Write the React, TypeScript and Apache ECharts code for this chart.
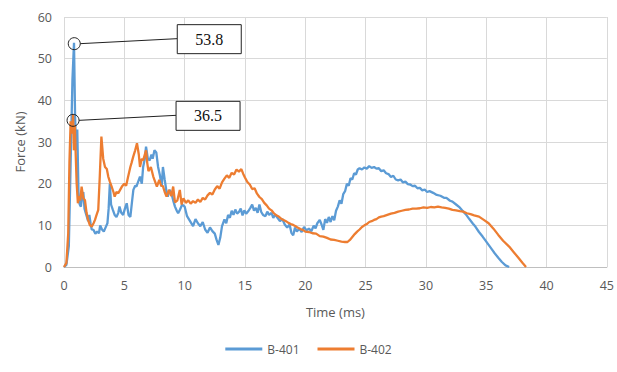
import React, { useEffect, useRef } from "react";
import * as echarts from "echarts";

// ---- Data ----
const xTicks = { min: 0, max: 45, interval: 5 };
const yTicks = { min: 0, max: 60, interval: 10 };

const seriesNames = ["B-401", "B-402"];

const t401 = [
  0, 0.2, 0.4, 0.55, 0.7, 0.83, 0.92, 1.0, 1.1, 1.2, 1.3, 1.4, 1.5, 1.6, 1.7, 1.8, 1.9, 2.0, 2.1, 2.2,
  2.3, 2.45, 2.6, 2.75, 2.9, 3.0, 3.15, 3.3, 3.45, 3.6, 3.7, 3.8, 3.9, 4.05, 4.2, 4.35, 4.5, 4.6, 4.75,
  4.9, 5.05, 5.2, 5.35, 5.5, 5.65, 5.75, 5.9, 6.0, 6.15, 6.3, 6.45, 6.56, 6.7, 6.8, 6.95, 7.1, 7.25,
  7.35, 7.5, 7.65, 7.8, 7.95, 8.1, 8.2, 8.35, 8.5, 8.6, 8.75, 8.9, 9.05, 9.2, 9.35, 9.46, 9.6, 9.8,
  10.0, 10.2, 10.45, 10.7, 10.9, 11.1, 11.3, 11.5, 11.7, 11.9, 12.1, 12.3, 12.5, 12.65, 12.8, 12.95,
  13.1, 13.3, 13.45, 13.6, 13.75, 13.9, 14.05, 14.2, 14.35, 14.5, 14.65, 14.8, 14.95, 15.1, 15.3,
  15.45, 15.6, 15.75, 15.9, 16.05, 16.2, 16.35, 16.5, 16.7, 16.85, 17.0, 17.2, 17.35, 17.5, 17.7,
  17.9, 18.1, 18.3, 18.5, 18.7, 18.85, 19.0, 19.15, 19.3, 19.5, 19.7, 19.9, 20.1, 20.3, 20.5, 20.7,
  20.85, 21.0, 21.2, 21.35, 21.5, 21.65, 21.8, 21.95, 22.1, 22.25, 22.4, 22.55, 22.7, 22.85, 23.0,
  23.15, 23.3, 23.45, 23.6, 23.75, 23.9, 24.05, 24.2, 24.35, 24.5, 24.7, 24.9, 25.1, 25.3, 25.5,
  25.7, 25.9, 26.1, 26.3, 26.5, 26.7, 26.9, 27.1, 27.3, 27.5, 27.7, 27.9, 28.1, 28.3, 28.5, 28.7,
  28.9, 29.1, 29.3, 29.5, 29.7, 29.9, 30.1, 30.3, 30.6, 30.9, 31.2, 31.5, 31.7, 32.0, 32.2, 32.5,
  32.8, 33.0, 33.3, 33.6, 33.9, 34.1, 34.4, 34.7, 34.9, 35.2, 35.5, 35.7, 36.0, 36.3, 36.6, 36.9,
];
const f401 = [
  0, 0.5, 5, 25, 45, 53.8, 36, 28, 33, 18, 15, 14.5, 17, 18, 14, 13, 12, 11, 12.5, 10.5,
  9, 8.9, 8, 8.5, 8.1, 10, 9, 8.5, 9.5, 10.5, 14, 20, 15, 13.7, 12.5, 12, 13, 14.5, 13,
  12.5, 14, 15.3, 12.5, 12, 16, 18.5, 19.5, 19.3, 20.5, 21.7, 20, 24, 26, 28.9, 26, 25.6, 27,
  26, 28, 27.5, 24, 22, 19.3, 24, 20.9, 18, 16.9, 18.5, 17.7, 16, 14.5, 13.5, 12.9, 13.7, 15,
  14.5, 12.2, 11, 9.8, 11.5, 10.5, 9.8, 10.8, 9, 8.2, 9.5, 8.6, 8, 6.5, 5.3, 7,
  9.8, 11.4, 10.5, 12.5, 11.8, 13.5, 12.5, 13.8, 12.8, 13.2, 14, 12.4, 13.6, 12.8, 13.5,
  14.2, 15, 13.5, 14.2, 13, 15, 13.2, 12.5, 12.2, 13.3, 12.5, 13, 11.8, 12.6, 11.8,
  11, 11.5, 10.2, 9.5, 10.2, 8.2, 7.6, 9.5, 8.5, 9.2, 8.4, 9.6, 8.8, 9.2, 8.6, 9.9,
  9.3, 10.5, 11.3, 10.2, 8.9, 11.5, 10.6, 12, 10.8, 12.2, 11.2, 13.5, 14.5, 16, 15.2,
  17.5, 18.2, 20, 19.5, 21.3, 21, 22.5, 22.2, 23.4, 23.7, 23.4, 23.9, 23.6, 24.2, 23.8,
  24, 23.6, 23.7, 23.0, 23.2, 22.5, 22.3, 21.6, 21.9, 21.0, 20.8, 21, 20.3, 20.5, 19.9, 19.8,
  19.4, 19.5, 18.9, 19, 18.4, 18.6, 18.0, 18.2, 17.8, 17.3, 17.1, 16.6, 16.6, 15.9, 15.7, 15,
  14.3, 13.6, 12.7, 11.5, 10.4, 9.7, 8.4, 7.3, 6.5, 5.3, 4.1, 3.3, 2.2, 1.2, 0.4, 0,
];

const t402 = [
  0, 0.2, 0.35, 0.45, 0.55, 0.65, 0.75, 0.82, 0.9, 0.97, 1.05, 1.15, 1.25, 1.35, 1.46, 1.6, 1.74,
  1.87, 2.0, 2.15, 2.3, 2.45, 2.57, 2.7, 2.84, 2.97, 3.1, 3.25, 3.4, 3.55, 3.67, 3.8, 3.95, 4.1,
  4.2, 4.35, 4.5, 4.65, 4.8, 5.0, 5.15, 5.3, 5.5, 5.6, 5.74, 5.9, 6.05, 6.2, 6.3, 6.45, 6.56,
  6.7, 6.8, 6.9, 7.0, 7.2, 7.4, 7.55, 7.7, 7.9, 8.05, 8.2, 8.35, 8.5, 8.7, 8.9, 9.05, 9.2, 9.4,
  9.6, 9.75, 9.9, 10.1, 10.3, 10.5, 10.7, 10.9, 11.1, 11.3, 11.5, 11.7, 11.9, 12.1, 12.3, 12.5,
  12.7, 12.9, 13.1, 13.3, 13.5, 13.7, 13.9, 14.1, 14.3, 14.5, 14.7, 14.85, 15.0, 15.2, 15.4, 15.6,
  15.8, 16.0, 16.2, 16.4, 16.6, 16.8, 17.0, 17.2, 17.4, 17.6, 17.8, 18.0, 18.2, 18.4, 18.6, 18.8,
  19.0, 19.2, 19.4, 19.6, 19.8, 20.0, 20.3, 20.6, 20.9, 21.2, 21.5, 21.8, 22.1, 22.4, 22.7, 23.0,
  23.3, 23.5, 23.7, 23.9, 24.1, 24.3, 24.5, 24.7, 24.9, 25.1, 25.3, 25.5, 25.7, 25.9, 26.1, 26.3,
  26.5, 26.8, 27.1, 27.4, 27.7, 28.0, 28.3, 28.6, 28.9, 29.2, 29.5, 29.8, 30.1, 30.4, 30.7, 31.0,
  31.3, 31.6, 31.9, 32.2, 32.5, 32.8, 33.1, 33.4, 33.7, 34.0, 34.4, 34.8, 35.2, 35.6, 36.0, 36.4,
  36.9, 37.3, 37.7, 38.0, 38.3,
];
const f402 = [
  0, 1, 8, 25, 35, 32, 36.5, 28, 34, 27, 20, 15.3, 17, 16, 19.3, 16.5, 16,
  13, 11.3, 10, 9.7, 10.5, 11.3, 12.5, 13.7, 22, 31.3, 26, 24, 23.5, 21.7, 20.5, 19.3, 18,
  16.9, 18, 17.7, 18.5, 19.3, 20, 19.5, 21.5, 24, 25, 26.5, 28, 29.7, 27, 24, 26, 25.6,
  27, 28, 25, 23, 24, 21.7, 20.5, 19.3, 20.9, 19.5, 19.4, 18, 16.9, 18.5, 17, 19.3, 15.5, 16,
  18.5, 15, 16.5, 15.4, 16, 15.2, 15.8, 15.4, 16.2, 15.6, 16.6, 16.2, 17.2, 17.8, 17.4, 18.6,
  19.4, 18.8, 20.3, 21.2, 22, 21.4, 22.6, 22.2, 23.4, 22.9, 23.5, 22.4, 21.5, 20.4, 19.8, 18.7,
  18.9, 17.6, 16.8, 16.3, 15.4, 14.8, 14, 13.6, 12.9, 12.4, 12.1, 11.6, 11.3, 11, 10.6, 10.3,
  10.1, 9.8, 9.4, 9.1, 8.9, 8.5, 8.4, 8.1, 8.0, 7.4, 7.3, 7.0, 6.6, 6.5, 6.3, 6.1,
  6.0, 6.0, 6.5, 7.2, 7.9, 8.5, 9.0, 9.6, 10.0, 10.3, 10.8, 11.0, 11.3, 11.5, 11.9, 12.1,
  12.2, 12.5, 12.8, 13.0, 13.3, 13.5, 13.7, 13.8, 14.0, 14.0, 14.1, 14.3, 14.2, 14.4, 14.3, 14.5,
  14.3, 14.2, 14.0, 13.7, 13.6, 13.4, 13.3, 12.9, 12.7, 12.4, 12.1, 11.3, 10.5, 9.2, 7.7, 6.3,
  4.9, 3.5, 2.1, 1.0, 0,
];

// Callouts: marked point (time, force) and label
const calloutTimes = [0.85, 0.75];
const calloutForces = [53.6, 35.2];
const calloutLabels = ["53.8", "36.5"];

const BLUE = "#5B9BD5";
const ORANGE = "#ED7D31";
const AXIS_TEXT = "#595959";
const GRID = "#D9D9D9";
const FONT = "'Open Sans', 'Noto Sans', sans-serif";

const zip = (xs: number[], ys: number[]) => xs.map((x, i) => [x, ys[i]]);

export default function App() {
  const ref = useRef<HTMLDivElement>(null);

  useEffect(() => {
    if (!ref.current) return;
    const chart = echarts.init(ref.current, undefined, { renderer: "svg" });
    const option: any = {
      animation: false,
      backgroundColor: "#ffffff",
      textStyle: { fontFamily: FONT },
      grid: { left: 64, right: 9, top: 17, bottom: 105, containLabel: false },
      xAxis: {
        type: "value",
        min: xTicks.min,
        max: xTicks.max,
        interval: xTicks.interval,
        name: "Time (ms)",
        nameLocation: "middle",
        nameGap: 38,
        nameTextStyle: { color: AXIS_TEXT, fontSize: 13, fontFamily: FONT },
        axisLine: { show: true, lineStyle: { color: "#BFBFBF", width: 1 } },
        axisTick: { show: false },
        axisLabel: { color: AXIS_TEXT, fontSize: 12.5, margin: 12, fontFamily: FONT },
        splitLine: { show: true, lineStyle: { color: GRID, width: 1 } },
      },
      yAxis: {
        type: "value",
        min: yTicks.min,
        max: yTicks.max,
        interval: yTicks.interval,
        name: "Force (kN)",
        nameLocation: "middle",
        nameGap: 38,
        nameTextStyle: { color: AXIS_TEXT, fontSize: 13, fontFamily: FONT },
        axisLine: { show: false },
        axisTick: { show: false },
        axisLabel: { color: AXIS_TEXT, fontSize: 12.5, margin: 12, fontFamily: FONT },
        splitLine: { show: true, lineStyle: { color: GRID, width: 1 } },
      },
      legend: {
        bottom: 12,
        left: "center",
        itemWidth: 37,
        itemHeight: 3,
        itemGap: 18,
        icon: "rect",
        textStyle: { color: AXIS_TEXT, fontSize: 12, fontFamily: FONT },
        data: seriesNames,
      },
      series: [
        {
          name: seriesNames[0],
          type: "line",
          data: zip(t401, f401),
          symbol: "none",
          lineStyle: { color: BLUE, width: 2.3 },
          itemStyle: { color: BLUE },
          z: 2,
        },
        {
          name: seriesNames[1],
          type: "line",
          data: zip(t402, f402),
          symbol: "none",
          lineStyle: { color: ORANGE, width: 2.3 },
          itemStyle: { color: ORANGE },
          z: 3,
        },
      ],
    };
    chart.setOption(option);

    const graphics: any[] = [];
    calloutTimes.forEach((t, i) => {
      const p = chart.convertToPixel({ gridIndex: 0 }, [t, calloutForces[i]]) as number[];
      const r = 6;
      const boxX = p[0] + 103;
      const boxW = 64;
      const boxH = 29;
      const lineEndY = p[1] - 5;
      const boxY = lineEndY - 14;
      graphics.push(
        {
          type: "line",
          shape: { x1: p[0] + r, y1: p[1], x2: boxX, y2: lineEndY },
          style: { stroke: "#222", lineWidth: 1 },
          z: 100,
        },
        {
          type: "circle",
          shape: { cx: p[0], cy: p[1], r },
          style: { fill: "rgba(0,0,0,0)", stroke: "#222", lineWidth: 1 },
          z: 100,
        },
        {
          type: "rect",
          shape: { x: boxX, y: boxY, width: boxW, height: boxH },
          style: { fill: "#fff", stroke: "#222", lineWidth: 1 },
          z: 100,
        },
        {
          type: "text",
          x: boxX + boxW / 2,
          y: boxY + boxH / 2,
          style: {
            text: calloutLabels[i],
            fill: "#111",
            font: "16px 'Liberation Serif', 'Times New Roman', serif",
            align: "center",
            verticalAlign: "middle",
          },
          z: 101,
        }
      );
    });
    chart.setOption({ graphic: graphics });

    return () => chart.dispose();
  }, []);

  return (
    <div
      ref={ref}
      style={{ position: "absolute", left: 0, top: 0, width: 617, height: 372 }}
    />
  );
}
